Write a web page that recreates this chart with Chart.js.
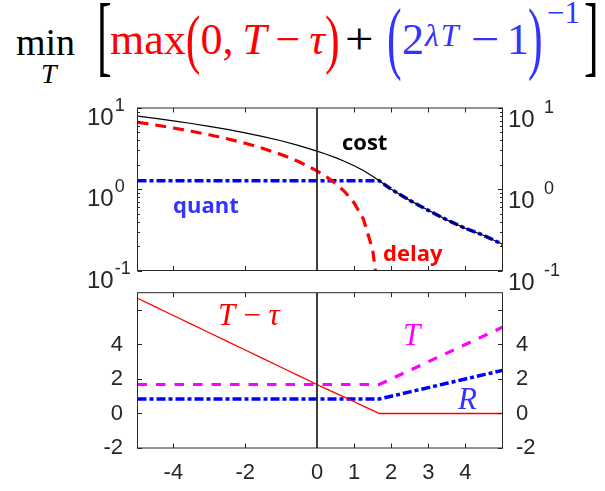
<!DOCTYPE html>
<html>
<head>
<meta charset="utf-8">
<script src="https://cdn.jsdelivr.net/npm/chart.js@4"></script>
<style>
  body { margin: 0; background: #fff; width: 605px; height: 491px; overflow: hidden; position: relative; }
  canvas { position: absolute; left: 0; }
  .p { position: absolute; white-space: nowrap; line-height: 1; font-family: "Liberation Serif", serif; }
  .m { font-size: 44px; top: 18px; }
  .red { color: #ff0000; }
  .blue { color: #3333ff; }
  .bp { display: inline-block; transform: scaleY(1.5); }
  .big { transform: scaleY(1.85); transform-origin: 50% 24px; }
  .br { transform: scaleY(2); transform-origin: 50% 25px; }
  .lbl { position: absolute; white-space: nowrap; line-height: 1; font: bold 22px "Open Sans", sans-serif; }
  .it { position: absolute; white-space: nowrap; line-height: 1; font: italic 31px "Liberation Serif", serif; }
</style>
</head>
<body>

<div class="p" style="left:16px;top:23px;font-size:38px">min</div>
<div class="p" style="left:41px;top:60px;font-size:28px;font-style:italic">T</div>
<div class="p m br" style="left:97px">[</div>
<div class="p m red" style="left:110px">max<span class="bp">(</span>0,&thinsp;<i>T</i>&thinsp;−&thinsp;<i>τ</i><span class="bp">)</span></div>
<div class="p m" style="left:345px;transform:scaleX(1.15);transform-origin:0 0">+</div>
<div class="p m blue big" style="left:387px">(</div>
<div class="p m blue" style="left:402px">2</div>
<div class="p blue" style="left:425px;top:19px;font-size:32px;font-style:italic;letter-spacing:2px">λT</div>
<div class="p m blue" style="left:471px;transform:scaleX(1.15);transform-origin:0 0">−</div>
<div class="p m blue" style="left:507px">1</div>
<div class="p m blue big" style="left:528px">)</div>
<div class="p blue" style="left:547px;top:-3px;font-size:31px">−1</div>
<div class="p m br" style="left:584px">]</div>

<canvas id="topChart" width="605" height="210" style="top:90px"></canvas>
<canvas id="botChart" width="605" height="226" style="top:265px"></canvas>

<div class="lbl" style="left:342px;top:126px;color:#000">cost</div>
<div class="lbl" style="left:173px;top:189px;color:#3333ff">quant</div>
<div class="lbl" style="left:383px;top:237px;color:#ff0000">delay</div>
<div class="it" style="left:218px;top:297px;color:#ff0000">T&thinsp;−&thinsp;τ</div>
<div class="it" style="left:403px;top:317px;color:#ff00ff">T</div>
<div class="it" style="left:458px;top:381px;color:#3333ff">R</div>

<script>
// values
const tau = [-5, -4.5, -4, -3.5, -3, -2.5, -2, -1.5, -1, -0.5, 0, 0.25, 0.5, 0.75, 1, 1.25, 1.5, 1.6, 1.68, 2, 2.5, 3, 3.5, 4, 4.5, 5];

const costVals  = [7.95, 7.45, 6.95, 6.45, 5.95, 5.45, 4.95, 4.45, 3.95, 3.45, 2.95, 2.70, 2.45, 2.20, 1.95, 1.70, 1.45, 1.35, 1.27, 1.00, 0.73, 0.55, 0.42, 0.33, 0.27, 0.21];
const delayVals = [6.68, 6.18, 5.68, 5.18, 4.68, 4.18, 3.68, 3.18, 2.68, 2.18, 1.68, 1.43, 1.18, 0.93, 0.68, 0.43, 0.18, 0.08, null, null, null, null, null, null, null, null];
const quantVals = [1.27, 1.27, 1.27, 1.27, 1.27, 1.27, 1.27, 1.27, 1.27, 1.27, 1.27, 1.27, 1.27, 1.27, 1.27, 1.27, 1.27, 1.27, 1.27, 1.00, 0.73, 0.55, 0.42, 0.33, 0.27, 0.21];

const gapVals = [6.68, 6.18, 5.68, 5.18, 4.68, 4.18, 3.68, 3.18, 2.68, 2.18, 1.68, 1.43, 1.18, 0.93, 0.68, 0.43, 0.18, 0.08, 0, 0, 0, 0, 0, 0, 0, 0];
const tVals   = [1.68, 1.68, 1.68, 1.68, 1.68, 1.68, 1.68, 1.68, 1.68, 1.68, 1.68, 1.68, 1.68, 1.68, 1.68, 1.68, 1.68, 1.68, 1.68, 2.0, 2.5, 3.0, 3.5, 4.0, 4.5, 5.0];
const rVals   = [0.84, 0.84, 0.84, 0.84, 0.84, 0.84, 0.84, 0.84, 0.84, 0.84, 0.84, 0.84, 0.84, 0.84, 0.84, 0.84, 0.84, 0.84, 0.84, 1.0, 1.25, 1.5, 1.75, 2.0, 2.25, 2.5];

const xTickVals   = [-4, -2, 0, 1, 2, 3, 4];
const xTickMarks  = [-4, -2, 1, 2, 3, 4];
const lowTickVals = [-2, 0, 2, 4];
const lowTickMarks = [-2, 0, 2, 4, 6];
const logTickVals = [0.1, 1, 10];
const logExps     = ["-1", "0", "1"];

const INK = "#262626";
const pts = ys => tau.map((x, i) => ({ x, y: ys[i] }));

// left half (-5..0) and right half (0..5) are slightly different widths, like two glued axes
class SplitLinear extends Chart.LinearScale {
  static id = "splitLinear";
  static defaults = Chart.LinearScale.defaults;
  getPixelForValue(v) {
    if (v === null || v === undefined) return NaN;
    const mid = this.left + (this.right - this.left) * this.options.split;
    if (v <= 0) return mid - (v / this.min) * (mid - this.left);
    return mid + (v / this.max) * (this.right - mid);
  }
  getValueForPixel(p) {
    const mid = this.left + (this.right - this.left) * this.options.split;
    if (p <= mid) return (mid - p) / (mid - this.left) * this.min;
    return (p - mid) / (this.right - mid) * this.max;
  }
}
Chart.register(SplitLinear);

Chart.defaults.font.family = "'Liberation Sans', Arial, sans-serif";
Chart.defaults.color = INK;

function framePlugin(yMarks) {
  return {
    id: "frame",
    afterDraw(chart) {
      const { ctx, chartArea: a } = chart;
      const x = chart.scales.x, y = chart.scales.y;
      ctx.save();
      ctx.strokeStyle = INK;
      ctx.lineWidth = 1;
      ctx.beginPath();
      xTickMarks.forEach(v => {
        const px = Math.round(x.getPixelForValue(v)) + 0.5;
        ctx.moveTo(px, a.bottom); ctx.lineTo(px, a.bottom - 4.5);
        ctx.moveTo(px, a.top); ctx.lineTo(px, a.top + 4.5);
      });
      yMarks.forEach(([v, len]) => {
        const py = Math.round(y.getPixelForValue(v)) + 0.5;
        ctx.moveTo(a.left, py); ctx.lineTo(a.left + len, py);
        ctx.moveTo(a.right, py); ctx.lineTo(a.right - len, py);
      });
      ctx.stroke();
      ctx.strokeRect(a.left, a.top, a.right - a.left, a.bottom - a.top);
      const cx = x.getPixelForValue(0);
      ctx.lineWidth = 1.8;
      ctx.strokeStyle = "#2a2a2a";
      ctx.beginPath();
      ctx.moveTo(cx, a.top); ctx.lineTo(cx, a.bottom);
      ctx.stroke();
      ctx.restore();
    }
  };
}

const logLabels = {
  id: "logLabels",
  afterDraw(chart) {
    const { ctx } = chart;
    const y = chart.scales.y;
    ctx.save();
    ctx.fillStyle = INK;
    ctx.textBaseline = "alphabetic";
    logTickVals.forEach((v, i) => {
      const py = y.getPixelForValue(v);
      ctx.font = "24px 'Liberation Sans'";
      ctx.fillText("10", 87, py + 17);
      const w = ctx.measureText("10").width;
      ctx.fillText("10", 508, py + 19);
      ctx.font = "18px 'Liberation Sans'";
      ctx.fillText(logExps[i], 87 + w + 1, py + 3);
      ctx.fillText(logExps[i], 544, py + 5);
    });
    ctx.restore();
  }
};

const logMarks = [];
logTickVals.forEach(v => logMarks.push([v, 4.5]));
logTickVals.slice(0, -1).forEach(v => {
  for (let k = 2; k <= 9; k++) logMarks.push([v * k, 2.5]);
});

const dashDot = [9, 3, 4, 3];

new Chart(document.getElementById("topChart"), {
  type: "line",
  data: {
    datasets: [
      { data: pts(costVals), borderColor: "#000", borderWidth: 1.2 },
      { data: pts(delayVals), borderColor: "#ff0000", borderWidth: 3.2, borderDash: [11, 7] },
      { data: pts(quantVals), borderColor: "#0000ff", borderWidth: 3.5, borderDash: dashDot }
    ]
  },
  options: {
    responsive: false,
    animation: false,
    events: [],
    layout: { padding: { left: 137.5, right: 102.5, top: 18, bottom: 29.5 } },
    elements: { point: { radius: 0 }, line: { tension: 0, fill: false } },
    datasets: { line: { clip: 0, spanGaps: false } },
    plugins: { legend: { display: false }, tooltip: { enabled: false } },
    scales: {
      x: { type: "splitLinear", min: -5, max: 5, split: 0.4918, display: false },
      y: { type: "logarithmic", min: 0.1, max: 10, display: false }
    }
  },
  plugins: [framePlugin(logMarks), logLabels]
});

const tickFont = { size: 22, family: "'Liberation Sans'" };

new Chart(document.getElementById("botChart"), {
  type: "line",
  data: {
    datasets: [
      { data: pts(gapVals), borderColor: "#ff0000", borderWidth: 1.3 },
      { data: pts(tVals), borderColor: "#ff00ff", borderWidth: 3.2, borderDash: [9.5, 9] },
      { data: pts(rVals), borderColor: "#0000ff", borderWidth: 3.5, borderDash: dashDot }
    ]
  },
  options: {
    responsive: false,
    animation: false,
    events: [],
    layout: { padding: { left: 0, right: 0, top: 22, bottom: 0 } },
    elements: { point: { radius: 0 }, line: { tension: 0, fill: false } },
    datasets: { line: { clip: 0 } },
    plugins: { legend: { display: false }, tooltip: { enabled: false } },
    scales: {
      x: {
        type: "splitLinear", min: -5, max: 5, split: 0.4918,
        afterBuildTicks: s => { s.ticks = xTickVals.map(v => ({ value: v })); },
        afterFit: s => { s.height = 43; },
        grid: { display: false, drawTicks: false },
        border: { display: false },
        ticks: { padding: 12, font: tickFont, color: INK, maxRotation: 0, autoSkip: false }
      },
      y: {
        type: "linear", position: "left", min: -2, max: 7,
        afterBuildTicks: s => { s.ticks = lowTickVals.map(v => ({ value: v })); },
        afterFit: s => { s.width = 137.5; },
        grid: { display: false, drawTicks: false },
        border: { display: false },
        ticks: { padding: 14.5, font: tickFont, color: INK }
      },
      y2: {
        type: "linear", position: "right", min: -2, max: 7,
        afterBuildTicks: s => { s.ticks = lowTickVals.map(v => ({ value: v })); },
        afterFit: s => { s.width = 102.5; },
        grid: { display: false, drawTicks: false },
        border: { display: false },
        ticks: { padding: 13.5, font: tickFont, color: INK }
      }
    }
  },
  plugins: [framePlugin(lowTickMarks.map(v => [v, 4.5]))]
});
</script>
</body>
</html>
